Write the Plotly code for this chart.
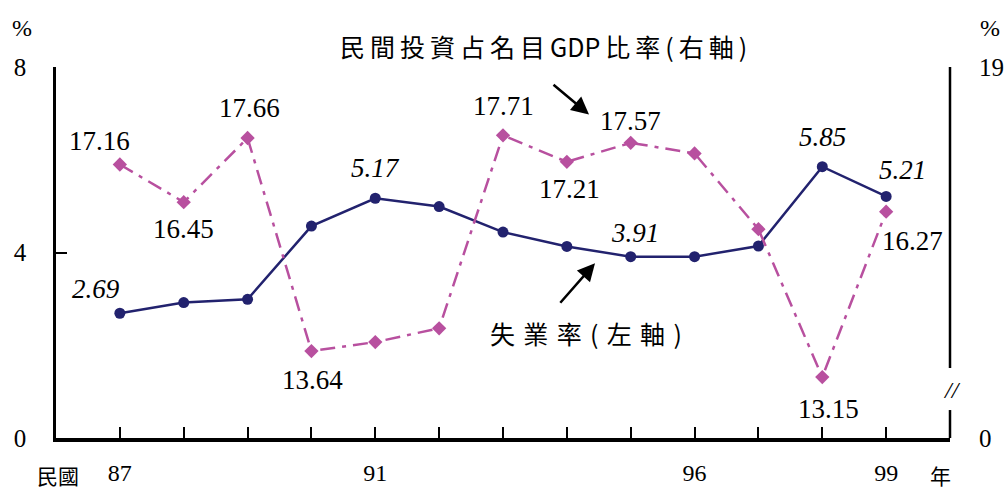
import plotly.graph_objects as go

years = [87, 88, 89, 90, 91, 92, 93, 94, 95, 96, 97, 98, 99]
unemployment = [2.69, 2.92, 2.99, 4.57, 5.17, 4.99, 4.44, 4.13, 3.91, 3.91, 4.14, 5.85, 5.21]
investment = [17.16, 16.45, 17.66, 13.64, 13.81, 14.07, 17.71, 17.21, 17.57, 17.37, 15.94, 13.15, 16.27]

x_tick_vals = years
x_tick_text = ["87", "", "", "", "91", "", "", "", "", "96", "", "", "99"]

unemp_labels = {87: "2.69", 91: "5.17", 95: "3.91", 98: "5.85", 99: "5.21"}
inv_labels = {87: "17.16", 88: "16.45", 89: "17.66", 90: "13.64", 93: "17.71",
              94: "17.21", 95: "17.57", 98: "13.15", 99: "16.27"}

inv_caption = "民間投資占名目GDP比率(右軸)"
unemp_caption = "失業率(左軸)"

NAVY = "#22226e"
MAG = "#b8509f"
SERIF = "Liberation Serif, Times New Roman, Noto Sans CJK TC, serif"
CJK = "Noto Sans CJK TC, Liberation Serif, serif"


def spaced(s, sep):
    out = ""
    for i, ch in enumerate(s):
        out += ch
        if i < len(s) - 1:
            nxt = s[i + 1]
            if not (ch.isascii() and ch.isalnum() and nxt.isascii() and nxt.isalnum()):
                out += sep
    return out


fig = go.Figure()
fig.add_trace(go.Scatter(
    x=years, y=investment, yaxis="y2", mode="lines+markers",
    line=dict(color=MAG, width=2.5, dash="15px,7px,4px,7px"),
    marker=dict(symbol="diamond", size=11, color=MAG),
    showlegend=False, hoverinfo="x+y"))
fig.add_trace(go.Scatter(
    x=years, y=unemployment, yaxis="y", mode="lines+markers",
    line=dict(color=NAVY, width=2.5),
    marker=dict(symbol="circle", size=11, color=NAVY),
    showlegend=False, hoverinfo="x+y"))

L, R, T, B = 56, 950, 66.5, 438

def px(x, y):
    return (x - L) / (R - L), 1 - (y - T) / (B - T)

anns = []
u_off = {87: (-24, -24), 91: (0, -30), 95: (4, -24), 98: (0, -30), 99: (16, -26)}
for yr, t in unemp_labels.items():
    i = years.index(yr)
    dx, dy = u_off[yr]
    anns.append(dict(x=yr, y=unemployment[i], xref="x", yref="y", text="<i>%s</i>" % t,
                     showarrow=False, xshift=dx, yshift=-dy,
                     font=dict(family=SERIF, size=27, color="black")))
i_off = {87: (-20, -24), 88: (0, 27), 89: (2, -30), 90: (1, 29), 93: (0, -29),
         94: (3, 27), 95: (0, -22), 98: (6, 32), 99: (26, 29)}
for yr, t in inv_labels.items():
    i = years.index(yr)
    dx, dy = i_off[yr]
    anns.append(dict(x=yr, y=investment[i], xref="x", yref="y2", text=t,
                     showarrow=False, xshift=dx, yshift=-dy,
                     font=dict(family=SERIF, size=27, color="black")))

pix_texts = [
    (543, 45, spaced(inv_caption, "\u2009"), CJK, 25),
    (586, 333, spaced(unemp_caption, "\u2004"), CJK, 25),
    (22, 27, "%", SERIF, 24),
    (990, 27, "%", SERIF, 24),
    (58, 475, "民國", CJK, 21),
    (940, 475, "年", CJK, 21),
    (952, 390, "<i>//</i>", SERIF, 24),
]
for x, y, t, f, s in pix_texts:
    X, Y = px(x, y)
    anns.append(dict(x=X, y=Y, xref="paper", yref="paper", text=t, showarrow=False,
                     xanchor="center", yanchor="middle",
                     font=dict(family=f, size=s, color="black")))

for (tx, ty), (hx, hy) in [((552, 83), (589, 114)), ((559, 304), (595, 263))]:
    X, Y = px(hx, hy)
    anns.append(dict(x=X, y=Y, xref="paper", yref="paper", ax=tx - hx, ay=ty - hy,
                     showarrow=True, arrowhead=2, arrowsize=1.4, arrowwidth=2.5,
                     arrowcolor="black", text=""))

shapes = []
b1 = px(0, 368)[1]
b2 = px(0, 410)[1]
shapes.append(dict(type="line", xref="paper", yref="paper", x0=1, x1=1, y0=1, y1=b1,
                   line=dict(color="black", width=2.5)))
shapes.append(dict(type="line", xref="paper", yref="paper", x0=1, x1=1, y0=b2, y1=0,
                   line=dict(color="black", width=2.5)))

fig.update_layout(
    width=1006, height=489, paper_bgcolor="white", plot_bgcolor="white",
    margin=dict(l=L, r=1006 - R, t=T, b=489 - B, autoexpand=False),
    annotations=anns, shapes=shapes,
    xaxis=dict(range=[86, 100], tickvals=x_tick_vals, ticktext=x_tick_text,
               ticks="inside", ticklen=11, tickwidth=2, tickcolor="black",
               showline=True, linecolor="black", linewidth=3.5, showgrid=False,
               zeroline=False, ticklabelstandoff=10, automargin=False,
               tickfont=dict(family=SERIF, size=24, color="black")),
    yaxis=dict(range=[0, 8], tickvals=[0, 4, 8], ticks="inside", ticklen=11,
               tickwidth=2, tickcolor="black", showline=True, linecolor="black",
               linewidth=2.5, showgrid=False, zeroline=False, ticklabelstandoff=22,
               automargin=False,
               tickfont=dict(family=SERIF, size=25, color="black")),
    yaxis2=dict(range=[12, 19], overlaying="y", side="right", tickvals=[12, 19],
                ticktext=["0", "19"], ticks="inside", ticklen=11, tickwidth=2,
                tickcolor="black", showline=False, showgrid=False, zeroline=False,
                ticklabelstandoff=28, automargin=False,
                tickfont=dict(family=SERIF, size=25, color="black")),
)

fig.write_html("out.html", config={"displayModeBar": False},
               post_script="document.body.style.margin='0px';document.body.style.overflow='hidden';")
